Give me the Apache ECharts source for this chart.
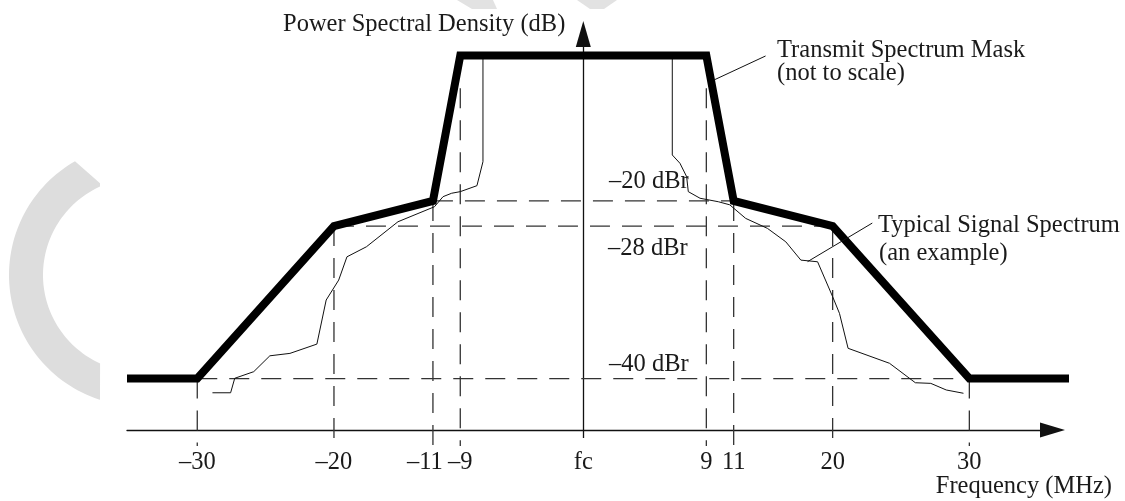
<!DOCTYPE html>
<html><head><meta charset="utf-8">
<script src="https://cdn.jsdelivr.net/npm/echarts@6/dist/echarts.min.js"></script>
<style>html,body{margin:0;padding:0;background:#fff}#c{width:1125px;height:501px}</style>
</head><body><div id="c"></div>
<script>
// ---- data (MHz offset from fc, dBr) ----
const tickFreqs = [-30, -20, -11, -9, 0, 9, 11, 20, 30];
const refLevels = [-20, -28, -40];
const refLevelHalfSpan = [11, 20, 30];
const maskFreq  = [-35.14, -30, -20, -11, -9, 9, 11, 20, 30, 37.29];
const maskLevel = [-40, -40, -28, -20, 0, 0, -20, -28, -40, -40];
const signalFreq = [-28.89, -27.56, -27.26, -25.87, -24.69, -23.22, -21.25, -20.57, -19.57, -18.82, -17.05, -14.18,
  -10.89, -10.26, -9.63, -9.0, -7.78, -7.34, -7.34,
  6.51, 6.51, 7.07, 7.56, 7.68, 8.54, 9.88, 10.71, 12.09, 14.07, 15.74, 17.11, 18.63, 20, 20.5, 21.13, 24.16,
  26.05, 27.18, 28.31, 29.57];
const signalLevel = [-41.12, -41.12, -39.98, -39.46, -38.21, -38.02, -37.29, -33.82, -32.25, -30.42, -29.63, -26.62,
  -21.82, -19.41, -18.94, -18.72, -17.9, -14.6, 0,
  0, -13.68, -14.82, -16.66, -18.72, -19.63, -20.22, -21.2, -25.54, -28.18, -29.24, -30.68, -30.81, -33.56, -34.87, -37.62, -38.8,
  -40.33, -40.38, -40.9, -41.16];
const guideFreq = [-30, -20, -11, -9, 9, 11, 20, 30];
const guideTop  = [-40, -28, -20, -4.5, -4.5, -20, -28, -40];
const guideBottom = -45.3;
const maskNoteFreq = [9.56, 13.9];
const maskNoteLevel = [-3.37, -0.07];
const signalNoteFreq = [17.72, 22.9];
const signalNoteLevel = [-30.8, -27.04];

// ---- styles ----
const FONT = '"Liberation Serif", "Times New Roman", serif';
const FS = 24.5;
const TXT = '#1a1a1a';
const dashStyle = { type: [20, 12], width: 1.3, color: '#333' };
const axisLineStyle = { color: '#111', width: 1.3 };

const series = [];
refLevels.forEach((lv, i) => {
  series.push({ type: 'line', symbol: 'none', silent: true, clip: false, z: 2,
    data: [[-refLevelHalfSpan[i], lv], [refLevelHalfSpan[i], lv]], lineStyle: dashStyle });
});
guideFreq.forEach((f, i) => {
  series.push({ type: 'line', symbol: 'none', silent: true, clip: false, z: 2,
    data: [[f, guideTop[i]], [f, guideBottom]], lineStyle: dashStyle });
});
series.push({ type: 'line', symbol: 'none', silent: true, clip: false, z: 3,
  data: signalFreq.map((f, i) => [f, signalLevel[i]]), lineStyle: { width: 1, color: '#111' } });
series.push({ type: 'line', symbol: 'none', silent: true, clip: false, z: 4,
  data: maskFreq.map((f, i) => [f, maskLevel[i]]), lineStyle: { width: 8, color: '#000', join: 'miter' } });
series.push({ type: 'line', symbol: 'none', silent: true, clip: false, z: 4,
  data: maskNoteFreq.map((f, i) => [f, maskNoteLevel[i]]), lineStyle: { width: 1, color: '#111' } });
series.push({ type: 'line', symbol: 'none', silent: true, clip: false, z: 4,
  data: signalNoteFreq.map((f, i) => [f, signalNoteLevel[i]]), lineStyle: { width: 1, color: '#111' } });

// decorative grey ring (watermark)
const ring = [];
const cx = 140, cy = 275, R = 131, r = 97;
for (let a = 240.25; a >= 107.8; a -= 2) ring.push([cx + R * Math.cos(a * Math.PI / 180), cy + R * Math.sin(a * Math.PI / 180)]);
ring.push([100, 399.7]);
for (let a = 114.3; a <= 245.7; a += 2) ring.push([cx + r * Math.cos(a * Math.PI / 180), cy + r * Math.sin(a * Math.PI / 180)]);
ring.push([100, 186.6]); ring.push([100, 183.3]);

function txt(text, x, y, align) {
  return { type: 'text', x: x, y: y, silent: true, z: 10,
    style: { text: text, fontSize: FS, fontFamily: FONT, fill: TXT, align: align || 'left', verticalAlign: 'middle' } };
}

const fmt = v => {
  if (v === 0) return 'fc';
  const s = (v < 0 ? '\u2013' : '') + Math.abs(v);
  if (v === -11) return '{sh|' + s + '}';
  return s;
};

const chart = echarts.init(document.getElementById('c'), null, { renderer: 'canvas' });
chart.setOption({
  animation: false,
  backgroundColor: '#fff',
  grid: [
    { left: 127, right: 56, top: 34, bottom: 71, containLabel: false, outerBoundsMode: 'none' },
    { left: 127, right: 72.5, top: 34, bottom: 71, containLabel: false, outerBoundsMode: 'none' }
  ],
  xAxis: [{
    gridIndex: 0, type: 'value', min: -35.14, max: 37.29,
    breaks: [{ start: -20, end: -11, gap: 7.24 }, { start: 11, end: 20, gap: 7.24 }],
    breakArea: { show: false },
    splitLine: { show: false },
    axisLine: { show: false, onZero: false },
    axisTick: { show: true, customValues: [0], length: 8, lineStyle: axisLineStyle },
    axisLabel: { customValues: tickFreqs, margin: 20, fontFamily: FONT, fontSize: FS, color: TXT, formatter: fmt,
      rich: { sh: { fontFamily: FONT, fontSize: FS, color: TXT, padding: [0, 16, 0, 0] } } }
  }, {
    // helper axis: only draws the frequency axis line with its arrow
    gridIndex: 1, type: 'value', min: -456.3, max: 469.2, position: 'bottom',
    splitLine: { show: false }, axisTick: { show: false }, axisLabel: { show: false },
    axisLine: { show: true, onZero: false, symbol: ['none', 'triangle'], symbolSize: [15, 25], lineStyle: axisLineStyle }
  }],
  yAxis: [{
    gridIndex: 0, type: 'value', min: -44.05, max: 1.69,
    breaks: [{ start: -28, end: -20.01, gap: 1.967 }, { start: -20, end: 0, gap: 11.45 }],
    breakArea: { show: false },
    splitLine: { show: false }, axisTick: { show: false }, axisLabel: { show: false },
    axisLine: { show: false }
  }, {
    // helper axis: draws the PSD axis line at fc with its arrow
    gridIndex: 1, type: 'value', min: 0, max: 1,
    splitLine: { show: false }, axisTick: { show: false }, axisLabel: { show: false },
    axisLine: { show: true, onZero: true, onZeroAxisIndex: 1, symbol: ['none', 'triangle'], symbolSize: [15, 26], lineStyle: axisLineStyle }
  }],
  graphic: [
    { type: 'polygon', silent: true, z: -1, shape: { points: ring }, style: { fill: '#dddddd' } },
    { type: 'polygon', silent: true, z: -1, shape: { points: [[457, 0], [493, 0], [497, 9], [472, 9]] }, style: { fill: '#e2e2e2' } },
    { type: 'polygon', silent: true, z: -1, shape: { points: [[577, 0], [617, 0], [604, 9], [590, 9]] }, style: { fill: '#e2e2e2' } },
    txt('Power Spectral Density (dB)', 283, 24.4),
    txt('Transmit Spectrum Mask', 777, 50.2),
    txt('(not to scale)', 777, 73.6),
    txt('Typical Signal Spectrum', 878, 225.2),
    txt('(an example)', 879, 253.6),
    txt('\u201320 dBr', 609, 182),
    txt('\u201328 dBr', 608, 248.6),
    txt('\u201340 dBr', 609, 365),
    txt('Frequency (MHz)', 1112, 487, 'right')
  ],
  series: series
});
</script>
</body></html>
